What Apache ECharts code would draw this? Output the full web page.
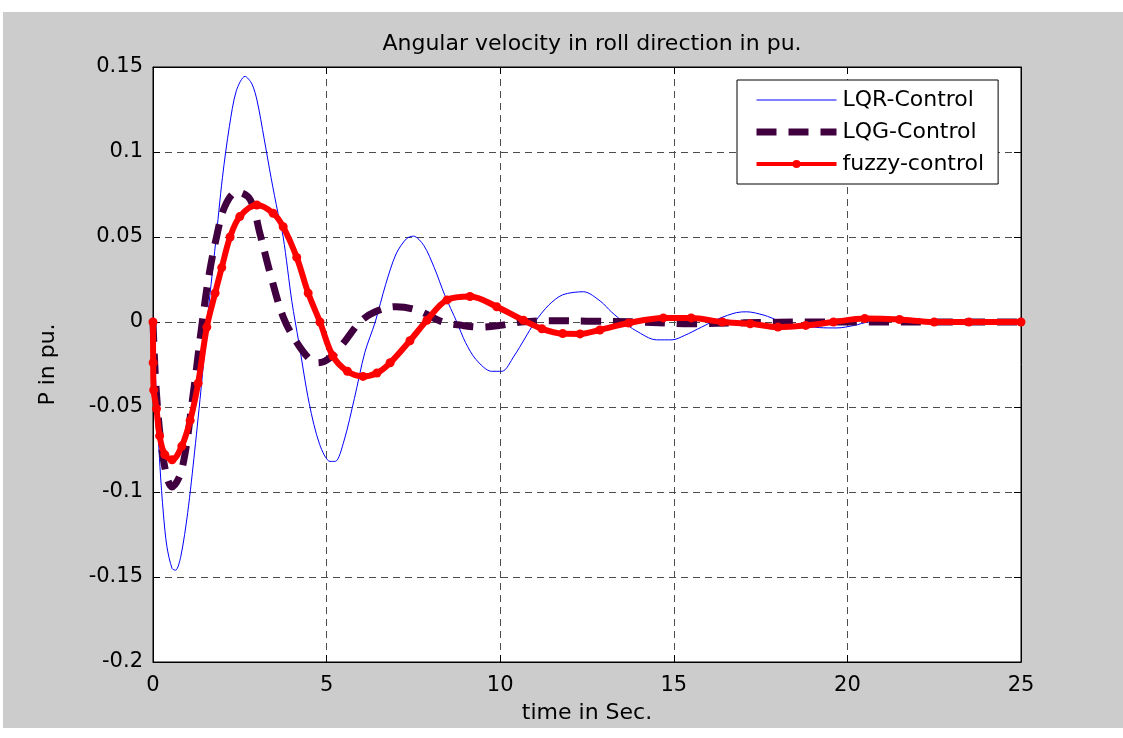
<!DOCTYPE html>
<html>
<head>
<meta charset="utf-8">
<script src="https://cdn.jsdelivr.net/npm/echarts@6/dist/echarts.min.js"></script>
<style>
  html, body { margin: 0; padding: 0; background: #fff; }
  #chart { width: 1123px; height: 738px; }
</style>
</head>
<body>
<div id="chart"></div>
<script>
// values (time in s, value in pu)
const lqrTime = [0, 0.1, 0.2, 0.3, 0.4, 0.55, 0.65, 0.8, 1.0, 1.2, 1.4, 1.6, 1.8, 2.0, 2.2, 2.4, 2.65, 2.85, 3.0, 3.2, 3.4, 3.6, 3.75, 4.0, 4.2, 4.5, 4.8, 5.1, 5.25, 5.5, 5.8, 6.1, 6.4, 6.7, 7.0, 7.3, 7.5, 7.8, 8.1, 8.4, 8.75, 9.0, 9.3, 9.75, 10.05, 10.4, 10.7, 11.0, 11.4, 11.8, 12.4, 12.9, 13.2, 13.55, 13.9, 14.5, 14.95, 15.3, 15.8, 16.3, 16.8, 17.1, 17.6, 18.0, 18.6, 19.2, 19.7, 20.2, 20.6, 21.2, 21.8, 22.4, 23.0, 24.0, 25.0];
const lqrValues = [0, -0.045, -0.085, -0.113, -0.132, -0.145, -0.146, -0.138, -0.112, -0.076, -0.036, 0.008, 0.046, 0.085, 0.115, 0.136, 0.1445, 0.14, 0.13, 0.108, 0.085, 0.064, 0.05, 0.012, -0.012, -0.048, -0.072, -0.082, -0.082, -0.07, -0.045, -0.018, 0.0, 0.022, 0.04, 0.049, 0.0505, 0.045, 0.032, 0.016, 0.0, -0.012, -0.022, -0.029, -0.029, -0.02, -0.01, 0.0, 0.01, 0.016, 0.0178, 0.012, 0.006, 0.0, -0.005, -0.0105, -0.0105, -0.008, -0.003, 0.002, 0.0055, 0.006, 0.004, 0.001, -0.002, -0.0033, -0.0035, -0.002, 0.0, 0.0008, 0.001, 0.001, 0.0005, 0.0, 0.0];

const lqgTime = [0, 0.1, 0.3, 0.55, 0.83, 1.16, 1.4, 1.6, 1.83, 2.07, 2.42, 2.8, 3.08, 3.37, 3.75, 4.14, 4.52, 4.75, 5.1, 5.5, 5.96, 6.4, 7.0, 7.6, 8.35, 8.9, 9.4, 10.0, 10.6, 11.5, 12.5, 14.0, 15.5, 17.0, 19.0, 21.0, 23.0, 25.0];
const lqgValues = [0, -0.042, -0.081, -0.097, -0.087, -0.042, -0.003, 0.026, 0.05, 0.068, 0.0765, 0.072, 0.052, 0.029, 0.003, -0.012, -0.022, -0.024, -0.021, -0.012, 0.0, 0.006, 0.009, 0.007, 0.0, -0.002, -0.003, -0.002, 0.0, 0.0008, 0.0005, 0.0, -0.001, -0.0005, 0.0, 0.0, 0.0, 0.0];

const fuzzyTime = [0, 0.005, 0.02, 0.1, 0.19, 0.34, 0.55, 0.83, 1.07, 1.3, 1.55, 1.79, 1.98, 2.22, 2.5, 2.99, 3.46, 3.75, 4.14, 4.47, 4.81, 5.18, 5.6, 6.05, 6.45, 6.83, 7.4, 7.89, 8.47, 9.13, 9.9, 10.67, 11.2, 11.8, 12.3, 12.87, 13.7, 14.7, 15.5, 16.4, 17.2, 18.0, 18.8, 19.6, 20.5, 21.5, 22.5, 23.5, 25.0];
const fuzzyValues = [0, -0.024, -0.040, -0.051, -0.067, -0.078, -0.081, -0.073, -0.058, -0.036, -0.003, 0.017, 0.032, 0.05, 0.062, 0.0688, 0.064, 0.056, 0.038, 0.017, 0.0, -0.02, -0.029, -0.032, -0.03, -0.024, -0.011, 0.001, 0.013, 0.015, 0.009, 0.001, -0.004, -0.0068, -0.007, -0.0047, -0.0006, 0.0024, 0.0024, 0.0, -0.001, -0.003, -0.002, 0.0, 0.002, 0.0015, 0.0, 0.0, 0.0];

const xTicks = [0, 5, 10, 15, 20, 25];
const seriesNames = ['LQR-Control', 'LQG-Control', 'fuzzy-control'];

const pairs = (ts, vs) => ts.map((t, i) => [t, vs[i]]);
const font = 'DejaVu Sans';
const gridLine = { show: true, lineStyle: { color: '#4d4d4d', type: [7, 5], width: 1 } };
const tick = { show: true, inside: true, length: 7, lineStyle: { color: '#000' } };
const axisLine = { show: true, onZero: false, lineStyle: { color: '#000' } };
const yFmt = (v) => String(Math.round(v * 100) / 100);

const lqgDash = [20, 12];

const chart = echarts.init(document.getElementById('chart'));
chart.setOption({
  backgroundColor: '#cccccc',
  animation: false,
  graphic: [
    { type: 'rect', shape: { x: 0, y: 0, width: 1123, height: 12 }, style: { fill: '#fff' }, silent: true },
    { type: 'rect', shape: { x: 0, y: 0, width: 3, height: 738 }, style: { fill: '#fff' }, silent: true },
    { type: 'rect', shape: { x: 0, y: 728, width: 1123, height: 10 }, style: { fill: '#fff' }, silent: true },
  ],
  title: {
    text: 'Angular velocity in roll direction in pu.',
    left: 587,
    top: 28,
    textAlign: 'center',
    textStyle: { fontFamily: font, fontSize: 22, fontWeight: 'normal', color: '#000' },
  },
  legend: {
    orient: 'vertical',
    left: 737,
    top: 80,
    data: [
      { name: seriesNames[0], itemStyle: { opacity: 0 }, lineStyle: { width: 1, color: '#0000ff' } },
      { name: seriesNames[1], itemStyle: { opacity: 0 }, lineStyle: { width: 7, color: '#400040', type: lqgDash } },
      { name: seriesNames[2], lineStyle: { width: 4, color: '#ff0000' } },
    ],
    itemWidth: 80,
    itemHeight: 10,
    itemGap: 10,
    padding: [9, 14, 9, 16],
    backgroundColor: '#fff',
    borderColor: '#000',
    borderWidth: 1,
    borderRadius: 0,
    textStyle: { fontFamily: font, fontSize: 22, color: '#000', lineHeight: 22, padding: [0, 0, 0, 1] },
  },
  grid: {
    left: 153, top: 67, width: 868, height: 595,
    show: true, backgroundColor: '#fff', borderColor: '#000', borderWidth: 1,
  },
  xAxis: [
    {
      type: 'value', min: xTicks[0], max: xTicks[xTicks.length - 1], interval: 5,
      name: 'time in Sec.', nameLocation: 'middle', nameGap: 40,
      nameTextStyle: { fontFamily: font, fontSize: 22, color: '#000' },
      axisLine: axisLine,
      axisTick: tick,
      axisLabel: { fontFamily: font, fontSize: 21, color: '#000', margin: 13 },
      splitLine: gridLine,
    },
    {
      type: 'value', position: 'top', min: 0, max: 25, interval: 5,
      axisLine: axisLine,
      axisTick: tick, axisLabel: { show: false }, splitLine: { show: false },
    },
  ],
  yAxis: [
    {
      type: 'value', min: -0.2, max: 0.15, interval: 0.05,
      name: 'P in pu.', nameLocation: 'middle', nameGap: 94,
      nameTextStyle: { fontFamily: font, fontSize: 22, color: '#000' },
      axisLine: axisLine,
      axisTick: tick,
      axisLabel: { fontFamily: font, fontSize: 21, color: '#000', margin: 10, formatter: yFmt },
      splitLine: gridLine,
    },
    {
      type: 'value', position: 'right', min: -0.2, max: 0.15, interval: 0.05,
      axisLine: axisLine,
      axisTick: tick, axisLabel: { show: false }, splitLine: { show: false },
    },
  ],
  series: [
    {
      name: seriesNames[0], type: 'line', xAxisIndex: 0, yAxisIndex: 0,
      data: pairs(lqrTime, lqrValues), smooth: 0.3, symbol: 'none',
      color: '#0000ff', lineStyle: { color: '#0000ff', width: 1 }, z: 3,
    },
    {
      name: seriesNames[1], type: 'line', xAxisIndex: 0, yAxisIndex: 0,
      data: pairs(lqgTime, lqgValues), smooth: 0.35, symbol: 'none',
      color: '#400040', lineStyle: { color: '#400040', width: 7, type: lqgDash }, z: 4,
    },
    {
      name: seriesNames[2], type: 'line', xAxisIndex: 0, yAxisIndex: 0,
      data: pairs(fuzzyTime, fuzzyValues), smooth: 0.35,
      symbol: 'circle', symbolSize: 9, showSymbol: true,
      color: '#ff0000', itemStyle: { color: '#ff0000' },
      lineStyle: { color: '#ff0000', width: 6 }, z: 5,
    },
  ],
});
</script>
</body>
</html>
